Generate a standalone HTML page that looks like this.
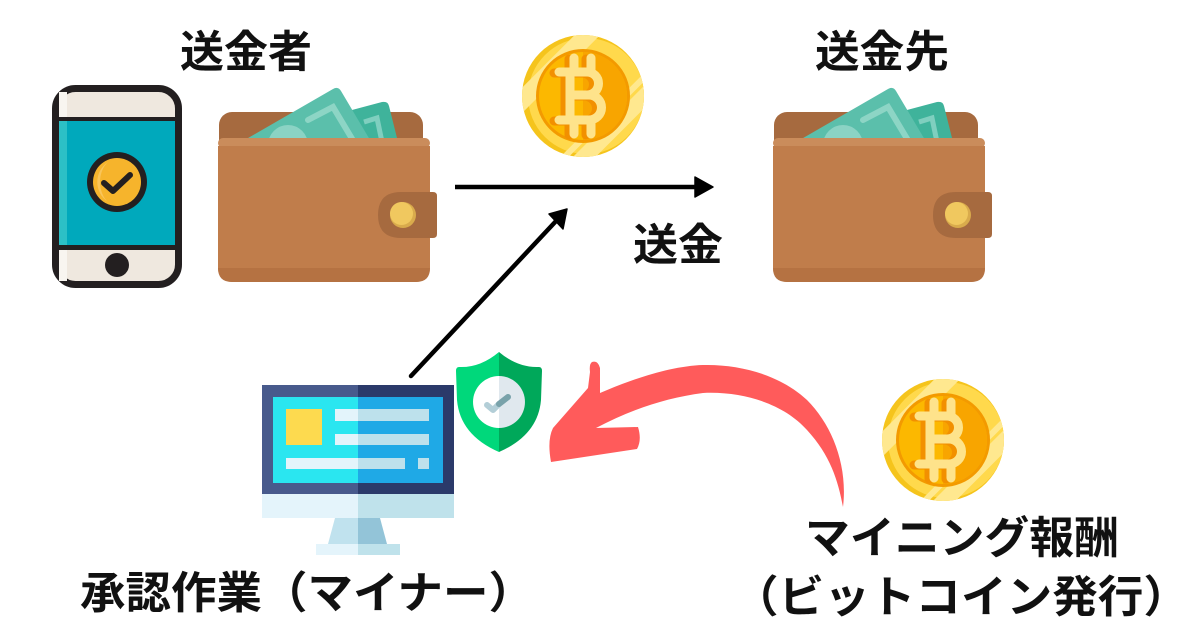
<!DOCTYPE html>
<html><head><meta charset="utf-8"><style>
html,body{margin:0;padding:0;background:#fff;}
svg{display:block;}
text{font-family:"Liberation Sans","Noto Sans CJK JP",sans-serif;font-weight:700;fill:#111;}
</style></head><body>
<svg width="1200" height="630" viewBox="0 0 1200 630" xmlns="http://www.w3.org/2000/svg">
<defs>
  <clipPath id="coinclip"><circle cx="0" cy="0" r="61"/></clipPath>
  <clipPath id="innerR"><rect x="0" y="-50" width="60" height="100"/></clipPath>
  <g id="coin">
    <circle cx="0" cy="0" r="61" fill="#f5c41c"/>
    <circle cx="3" cy="0" r="58" fill="#ffd94c"/>
    <g clip-path="url(#coinclip)">
      <rect x="-8" y="-90" width="16" height="180" fill="#ffe88f" transform="rotate(45) translate(44 0)"/>
      <rect x="-3" y="-90" width="6" height="180" fill="#ffe88f" transform="rotate(45) translate(30 0)"/>
      <rect x="-9" y="-90" width="18" height="180" fill="#ffe88f" transform="rotate(45) translate(-40 0)"/>
    </g>
    <circle cx="0" cy="0" r="47" fill="#f39a00"/>
    <circle cx="0" cy="0" r="44" fill="#fcb800"/>
    <circle cx="0" cy="0" r="44" fill="#f8a500" clip-path="url(#innerR)"/>
    <path d="M -24 -24 H 4 A 11.5 11.5 0 0 1 4 -1 H -13 M 4 -1 H 6 A 12.5 12.5 0 0 1 6 24 H -24 M -13 -24 V 24 M -9 -38 V -24 M 8 -38 V -24 M -9 24 V 38 M 8 24 V 38" fill="none" stroke="#f29000" stroke-width="9" stroke-linecap="round" stroke-linejoin="round" transform="translate(-5 1)"/>
    <path d="M -24 -24 H 4 A 11.5 11.5 0 0 1 4 -1 H -13 M 4 -1 H 6 A 12.5 12.5 0 0 1 6 24 H -24 M -13 -24 V 24 M -9 -38 V -24 M 8 -38 V -24 M -9 24 V 38 M 8 24 V 38" fill="none" stroke="#fee38b" stroke-width="9" stroke-linecap="round" stroke-linejoin="round"/>
  </g>
  <clipPath id="billclip"><rect x="200" y="60" width="260" height="82"/></clipPath>
  <g id="wallet">
    <rect x="219" y="112" width="204" height="80" rx="13" fill="#a66a3f"/>
    <g clip-path="url(#billclip)">
      <path d="M 352 110 L 382 102 Q 388 101 389 106 L 400 150 L 356 150 Z" fill="#3fb39b"/>
      <path d="M 364 122 L 377 118 L 382 142" fill="none" stroke="#7fcfbf" stroke-width="5"/>
      <path d="M 236 145 L 333 89 Q 338 86 341 91 L 376 150 Z" fill="#5bbfab"/>
      <circle cx="288" cy="145" r="20" fill="#8bd3c4"/>
      <path d="M 308 120 L 333 107 L 354 142" fill="none" stroke="#8dd5c5" stroke-width="6" stroke-linecap="round"/>
    </g>
    <rect x="218" y="138" width="212" height="144" rx="14" fill="#c07d4b"/>
    <rect x="218" y="138" width="212" height="10" rx="5" fill="#ca8c5b"/>
    <rect x="218" y="146" width="212" height="6" fill="#c07d4b"/>
    <path d="M 218 268 H 430 V 268 Q 430 282 416 282 H 232 Q 218 282 218 268 Z" fill="#b57242"/>
    <path d="M 401 192 H 433 Q 437 192 437 196 V 234 Q 437 238 433 238 H 401 Q 378 238 378 215 Q 378 192 401 192 Z" fill="#a66a3f"/>
    <circle cx="403" cy="215" r="13" fill="#d9ab4c"/>
    <circle cx="401.5" cy="213.5" r="11.5" fill="#f0c85f"/>
  </g>
</defs>

<!-- Titles -->
<text x="180" y="67" font-size="44" textLength="132" lengthAdjust="spacingAndGlyphs">送金者</text>
<text x="815" y="67" font-size="44" textLength="134" lengthAdjust="spacingAndGlyphs">送金先</text>
<text x="633" y="260" font-size="44" textLength="90" lengthAdjust="spacingAndGlyphs">送金</text>

<!-- Phone -->
<rect x="55.5" y="88.5" width="123" height="196" rx="20" fill="#efe8df" stroke="#231f20" stroke-width="7"/>
<rect x="59" y="92" width="8" height="189" fill="#f8f5f0"/>
<rect x="59" y="117" width="116" height="133" fill="#231f20"/>
<rect x="59" y="121" width="116" height="124" fill="#00a9bc"/>
<rect x="59" y="121" width="8" height="124" fill="#2cc0c6"/>
<circle cx="117" cy="182" r="30" fill="#231f20"/>
<circle cx="117" cy="182" r="24" fill="#f6b42c"/>
<path d="M 100 182 A 17 24 0 0 1 108 162 A 24 24 0 0 0 108 202 A 17 24 0 0 1 100 182 Z" fill="#f9c55a"/>
<polyline points="104,183 113,191 130,175" fill="none" stroke="#231f20" stroke-width="6" stroke-linecap="round" stroke-linejoin="round"/>
<circle cx="117" cy="265" r="12" fill="#231f20"/>

<!-- Wallets -->
<use href="#wallet"/>
<use href="#wallet" transform="translate(555 0)"/>

<!-- Coins -->
<use href="#coin" transform="translate(583 96)"/>
<use href="#coin" transform="translate(943 440)"/>

<!-- Horizontal arrow -->
<line x1="455" y1="187" x2="700" y2="187" stroke="#000" stroke-width="4.5"/>
<path d="M 713 187 L 695 177 L 695 197 Z" fill="#000" stroke="#000" stroke-width="1.5" stroke-linejoin="round"/>

<!-- Diagonal arrow -->
<line x1="411" y1="376" x2="557" y2="220" stroke="#000" stroke-width="4.5" stroke-linecap="round"/>
<path d="M 567 209 L 549 214 L 563 229 Z" fill="#000" stroke="#000" stroke-width="1.5" stroke-linejoin="round"/>

<!-- Monitor -->
<rect x="262" y="385" width="96" height="109" fill="#485a8c"/>
<rect x="358" y="385" width="96" height="109" fill="#2b3a6a"/>
<rect x="273" y="397" width="85" height="86" fill="#2ae6f0"/>
<rect x="358" y="397" width="85" height="86" fill="#1fa9e6"/>
<rect x="286" y="409" width="36" height="36" fill="#fdda4f"/>
<rect x="335" y="409" width="23" height="12" fill="#e3f4fb"/>
<rect x="358" y="409" width="71" height="12" fill="#bde1ec"/>
<rect x="335" y="434" width="23" height="11" fill="#e3f4fb"/>
<rect x="358" y="434" width="71" height="11" fill="#bde1ec"/>
<rect x="286" y="458" width="72" height="11" fill="#e3f4fb"/>
<rect x="358" y="458" width="47" height="11" fill="#bde1ec"/>
<rect x="418" y="458" width="11" height="11" fill="#bde1ec"/>
<rect x="262" y="494" width="96" height="24" fill="#e4f4fb"/>
<rect x="358" y="494" width="96" height="24" fill="#bfe2eb"/>
<path d="M 335 518 H 358 V 544 H 328 Z" fill="#c0e2ee"/>
<path d="M 358 518 H 380 L 387 544 H 358 Z" fill="#93c4d8"/>
<rect x="316" y="544" width="42" height="11" fill="#e4f4fb"/>
<rect x="358" y="544" width="42" height="11" fill="#bfe2eb"/>

<!-- Shield -->
<path d="M 499 352 Q 480 368 459 367 Q 456 367 456 371 L 457 400 Q 460 435 499 452 Z" fill="#00d87b"/>
<path d="M 499 352 Q 518 368 539 367 Q 542 367 542 371 L 541 400 Q 538 435 499 452 Z" fill="#00a85a"/>
<path d="M 499 376 A 26 26 0 0 0 499 428 Z" fill="#ffffff"/>
<path d="M 499 376 A 26 26 0 0 1 499 428 Z" fill="#e0e8ee"/>
<polyline points="487,405 493,410 499,404" fill="none" stroke="#b3ced7" stroke-width="6" stroke-linecap="round" stroke-linejoin="round"/>
<polyline points="499,404 508,397" fill="none" stroke="#79a2aa" stroke-width="6" stroke-linecap="round"/>

<!-- Red curved arrow -->
<path d="M 843 507 C 848 465, 832 425, 807 400 C 780 375, 740 364, 703 365 C 670 366, 630 380, 600 393 L 600 368 Q 598 360 592 362 Q 589 364 590 372 L 588 388 L 553 428 Q 547 440 551 462 L 637 449 Q 642 440 638 427 L 596 428 C 630 410, 665 398, 703 393 C 745 391, 785 405, 807 430 C 830 455, 838 480, 843 507 Z" fill="#ff5b5b"/>

<!-- Bottom labels -->
<text x="80" y="608" font-size="44" textLength="454" lengthAdjust="spacingAndGlyphs">承認作業（マイナー）</text>
<text x="805" y="553" font-size="44" textLength="314" lengthAdjust="spacingAndGlyphs">マイニング報酬</text>
<text x="733" y="612" font-size="44" textLength="456" lengthAdjust="spacingAndGlyphs">（ビットコイン発行）</text>
</svg>
</body></html>
